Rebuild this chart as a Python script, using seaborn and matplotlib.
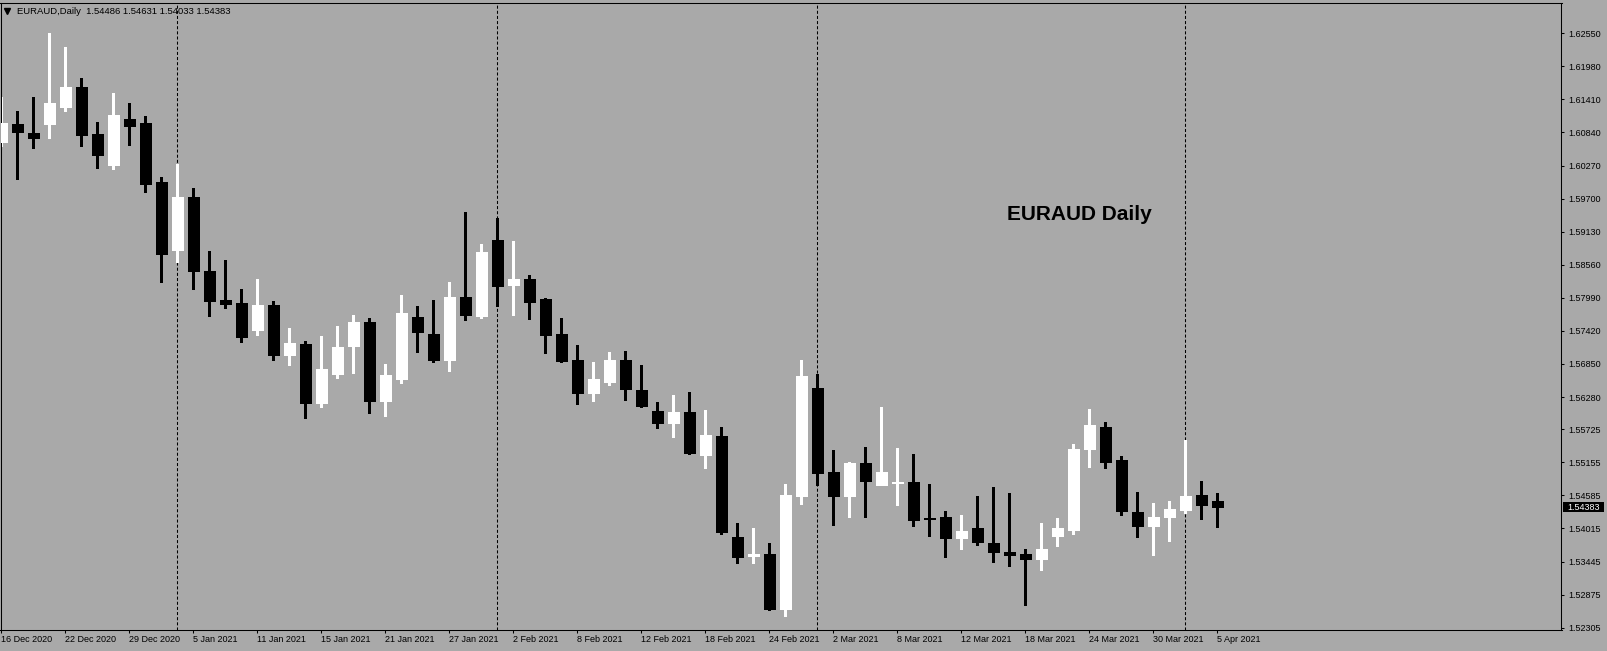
import numpy as np
import pandas as pd
import matplotlib
matplotlib.use("Agg")
import matplotlib.pyplot as plt
from matplotlib.patches import Rectangle
from matplotlib.lines import Line2D
import seaborn as sns

# EURAUD daily candles, 16 Dec 2020 - 5 Apr 2021 (no 25 Dec / 1 Jan bars)
dates = pd.bdate_range("2020-12-16", "2021-04-05")
dates = dates[~dates.isin(pd.to_datetime(["2020-12-25", "2021-01-01"]))]

opens = [
    1.60682, 1.60987, 1.60832, 1.60992, 1.61280, 1.61625, 1.60814, 1.60280, 1.61073, 1.61004,
    1.59987, 1.58820, 1.59729, 1.58453, 1.57953, 1.57902, 1.57441, 1.57867, 1.57010, 1.57195,
    1.56183, 1.56683, 1.57166, 1.57574, 1.56218, 1.56597, 1.57660, 1.57367, 1.56924, 1.58005,
    1.57683, 1.58987, 1.58217, 1.58315, 1.57970, 1.57367, 1.56919, 1.56355, 1.56545, 1.56919,
    1.56402, 1.56040, 1.55838, 1.56023, 1.55287, 1.55609, 1.53868, 1.53546, 1.53575, 1.52632,
    1.54580, 1.56436, 1.54989, 1.54580, 1.55144, 1.54770, 1.54794, 1.54816, 1.54201, 1.54213,
    1.53856, 1.54023, 1.53765, 1.53610, 1.53575, 1.53494, 1.53891, 1.53989, 1.55385, 1.55764,
    1.55195, 1.54299, 1.54063, 1.54218, 1.54339, 1.54592, 1.54486]
highs = [
    1.61447, 1.61211, 1.61447, 1.62555, 1.62314, 1.61780, 1.61021, 1.61521, 1.61349, 1.61125,
    1.60073, 1.60297, 1.59884, 1.58798, 1.58648, 1.58148, 1.58320, 1.57936, 1.57471, 1.57252,
    1.57333, 1.57505, 1.57695, 1.57643, 1.56850, 1.58039, 1.57850, 1.57953, 1.58263, 1.59470,
    1.58918, 1.59367, 1.58970, 1.58384, 1.57988, 1.57643, 1.57178, 1.56885, 1.57057, 1.57074,
    1.56833, 1.56195, 1.56316, 1.56368, 1.56057, 1.55764, 1.54110, 1.54023, 1.53765, 1.54782,
    1.56919, 1.56678, 1.55368, 1.55161, 1.55420, 1.56109, 1.55402, 1.55299, 1.54782, 1.54316,
    1.54247, 1.54575, 1.54730, 1.54627, 1.53661, 1.54110, 1.54196, 1.55471, 1.56075, 1.55850,
    1.55264, 1.54644, 1.54454, 1.54489, 1.55540, 1.54834, 1.54631]
lows = [
    1.60613, 1.60039, 1.60578, 1.60751, 1.61216, 1.60613, 1.60234, 1.60216, 1.60630, 1.59820,
    1.58269, 1.58613, 1.58148, 1.57683, 1.57821, 1.57235, 1.57355, 1.56924, 1.56838, 1.55925,
    1.56114, 1.56614, 1.56700, 1.56011, 1.55959, 1.56528, 1.57057, 1.56890, 1.56735, 1.57614,
    1.57648, 1.57855, 1.57700, 1.57631, 1.57045, 1.56890, 1.56166, 1.56218, 1.56493, 1.56235,
    1.56114, 1.55752, 1.55597, 1.55304, 1.55063, 1.53925, 1.53425, 1.53425, 1.52615, 1.52512,
    1.54442, 1.54765, 1.54080, 1.54218, 1.54218, 1.54759, 1.54420, 1.54063, 1.53891, 1.53529,
    1.53667, 1.53736, 1.53443, 1.53374, 1.52696, 1.53305, 1.53718, 1.53925, 1.55080, 1.55063,
    1.54253, 1.53873, 1.53563, 1.53805, 1.54287, 1.54184, 1.54033]
closes = [
    1.61009, 1.60854, 1.60751, 1.61349, 1.61625, 1.60797, 1.60458, 1.61142, 1.60957, 1.59958,
    1.58751, 1.59729, 1.58458, 1.57941, 1.57889, 1.57321, 1.57867, 1.57010, 1.57212, 1.56183,
    1.56764, 1.57143, 1.57574, 1.56218, 1.56661, 1.57729, 1.57407, 1.56924, 1.58005, 1.57700,
    1.58781, 1.58200, 1.58315, 1.57924, 1.57355, 1.56907, 1.56355, 1.56592, 1.56919, 1.56424,
    1.56131, 1.55838, 1.56023, 1.55321, 1.55626, 1.53960, 1.53529, 1.53575, 1.52632, 1.54592,
    1.56643, 1.54976, 1.54580, 1.55144, 1.54839, 1.54989, 1.54811, 1.54166, 1.54184, 1.53856,
    1.53972, 1.53787, 1.53615, 1.53563, 1.53494, 1.53661, 1.54023, 1.55385, 1.55799, 1.55166,
    1.54322, 1.54063, 1.54213, 1.54351, 1.54575, 1.54425, 1.54383]

price_ticks = [1.62550, 1.61980, 1.61410, 1.60840, 1.60270, 1.59700, 1.59130, 1.58560,
               1.57990, 1.57420, 1.56850, 1.56280, 1.55725, 1.55155, 1.54585, 1.54015,
               1.53445, 1.52875, 1.52305]
last_price = 1.54383
symbol = "EURAUD,Daily"
title_text = "EURAUD Daily"

bg = "#A9A9A9"
sns.set_theme(style="white", rc={"axes.facecolor": bg, "figure.facecolor": bg,
                                 "axes.edgecolor": "black", "axes.linewidth": 0.75})
plt.rcParams["font.family"] = ["Liberation Sans", "DejaVu Sans"]
plt.rcParams["lines.scale_dashes"] = False

df = pd.DataFrame({"date": dates, "open": opens, "high": highs,
                   "low": lows, "close": closes})
df["x"] = np.arange(len(df))
df["up"] = df["close"] >= df["open"]
df["color"] = np.where(df["up"], "white", "black")

fig = plt.figure(figsize=(16.08, 6.51), dpi=100)
W, H = 1608, 651
ax = fig.add_axes([0.5 / W, 21 / H, 1561 / W, 627.3 / H])

# month separators
month_start = df.index[df["date"].dt.month != df["date"].dt.month.shift()][1:]
for i in month_start:
    ax.axvline(df.loc[i, "x"], color="black", lw=0.75, ls=(0, (2.2, 1.5)), zorder=1)

# wicks and bodies
ax.vlines(df["x"], df["low"], df["high"], colors=df["color"], lw=0.8, zorder=2,
          antialiased=False)
body_lo = df[["open", "close"]].min(axis=1)
body_h = (df["close"] - df["open"]).abs()
ax.bar(df["x"], body_h, bottom=body_lo, width=0.66, color=df["color"],
       edgecolor=df["color"], linewidth=0.6, zorder=3, antialiased=False)

ax.set_xlim(-0.05, 97.51)
ax.set_ylim(1.52265, 1.63077)

# price axis on the right
ax.yaxis.tick_right()
ax.set_yticks(price_ticks)
ax.set_yticklabels([f"{p:.5f}" for p in price_ticks])
ax.tick_params(axis="y", direction="out", length=2.2, width=0.75, pad=2.4,
               labelsize=6.5, colors="black", right=True, left=False)

# date axis
xt = df["x"][::4]
ax.set_xticks(xt)
ax.set_xticklabels([f"{d.day} {d:%b %Y}" for d in df["date"][::4]], ha="left")
ax.tick_params(axis="x", direction="out", length=2.4, width=0.75, pad=1.2,
               labelsize=6.5, colors="black", bottom=True)
for s in ax.spines.values():
    s.set_visible(True)
    s.set_color("black")
ax.grid(False)

# current price tag
fig.canvas.draw()
yp = ax.transData.transform((0, last_price))[1]
fig.add_artist(Rectangle((1563, yp - 5.3), 41, 10.7, transform=None,
                         facecolor="black", edgecolor="none", zorder=5))
fig.text(1567.5 / W, yp / H, f"{last_price:.5f}", color="white", fontsize=6.5,
         va="center", ha="left", zorder=6)

# header and label
fig.add_artist(Line2D([7 / W], [1 - 11 / H], marker="v", ms=4.2, color="black",
                      transform=fig.transFigure))
fig.text(16.7 / W, 1 - 11 / H,
         f"{symbol}  {opens[-1]:.5f} {highs[-1]:.5f} {lows[-1]:.5f} {closes[-1]:.5f}",
         fontsize=6.8, va="center", ha="left", color="black")
ax.text(62.85, 1.5933, title_text, fontsize=15, fontweight="bold",
        color="black", va="baseline", ha="left")

fig.savefig("out.png", dpi=100, facecolor=bg)
